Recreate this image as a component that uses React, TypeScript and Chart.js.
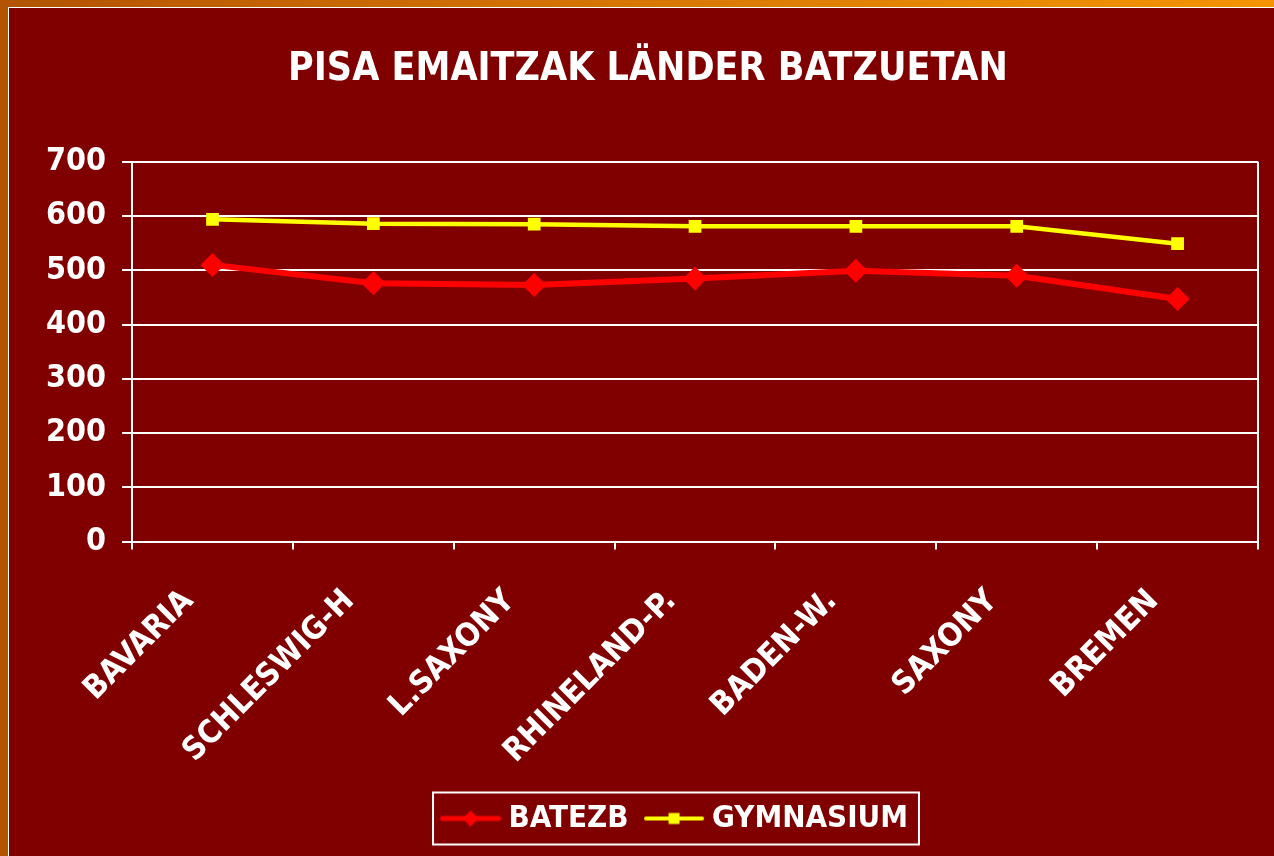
import { useEffect, useRef } from "react";
import { Chart, registerables } from "chart.js";

Chart.register(...registerables);

const titleText = "PISA EMAITZAK LÄNDER BATZUETAN";
const categories = ["BAVARIA", "SCHLESWIG-H", "L.SAXONY", "RHINELAND-P.", "BADEN-W.", "SAXONY", "BREMEN"];
const batezbName = "BATEZB";
const batezbValues = [510, 476, 473, 485, 499, 490, 447];
const gymnasiumName = "GYMNASIUM";
const gymnasiumValues = [594, 586, 585, 581, 581, 581, 549];
const yMin = 0;
const yMax = 700;
const yStep = 100;

const FONT = "'DejaVu Sans Condensed', 'Liberation Sans', 'DejaVu Sans', sans-serif";
const RED = "#FF0000";
const YELLOW = "#FFFF00";
const WHITE = "#FFFFFF";
const BG = "#800000";

function makeLegendMarker(color: string, lineWidth: number, shape: "diamond" | "square") {
  const c = document.createElement("canvas");
  c.width = 64;
  c.height = 24;
  const g = c.getContext("2d")!;
  g.strokeStyle = color;
  g.fillStyle = color;
  g.lineWidth = lineWidth;
  g.lineCap = "round";
  g.beginPath();
  g.moveTo(4, 12);
  g.lineTo(60, 12);
  g.stroke();
  g.beginPath();
  if (shape === "diamond") {
    g.moveTo(32 - 8, 12);
    g.lineTo(32, 12 - 8);
    g.lineTo(32 + 8, 12);
    g.lineTo(32, 12 + 8);
    g.closePath();
  } else {
    g.rect(32 - 5.5, 12 - 5.5, 11, 11);
  }
  g.fill();
  return c;
}

const boxShift = {
  id: "boxShift",
  afterLayout(chart: any) {
    const lg = chart.legend;
    if (lg) {
      lg.left += 34;
      lg.right += 34;
    }
    const tt = chart.titleBlock;
    if (tt) {
      tt.left += 4;
      tt.right += 4;
    }
  },
};

const legendFrame = {
  id: "legendFrame",
  afterDraw(chart: any) {
    const boxes = chart.legend?.legendHitBoxes;
    if (!boxes || !boxes.length) return;
    const left = Math.min(...boxes.map((b: any) => b.left)) - 15;
    const right = Math.max(...boxes.map((b: any) => b.left + b.width)) + 11;
    const cy = boxes[0].top + boxes[0].height / 2;
    const ctx = chart.ctx;
    ctx.save();
    ctx.strokeStyle = WHITE;
    ctx.lineWidth = 2;
    ctx.strokeRect(left, cy - 26, right - left, 52);
    ctx.restore();
  },
};

export default function App() {
  const ref = useRef<HTMLCanvasElement | null>(null);

  useEffect(() => {
    if (!ref.current) return;
    const redMarker = makeLegendMarker(RED, 5, "diamond");
    const yellowMarker = makeLegendMarker(YELLOW, 4, "square");
    const chart = new Chart(ref.current, {
      type: "line",
      data: {
        labels: categories,
        datasets: [
          {
            label: batezbName,
            data: batezbValues,
            borderColor: RED,
            backgroundColor: RED,
            borderWidth: 6,
            pointStyle: "rectRot",
            pointRadius: 12,
            pointBorderWidth: 0,
            pointBackgroundColor: RED,
            tension: 0,
          },
          {
            label: gymnasiumName,
            data: gymnasiumValues,
            borderColor: YELLOW,
            backgroundColor: YELLOW,
            borderWidth: 4.5,
            pointStyle: "rect",
            pointRadius: 9,
            pointBorderWidth: 0,
            pointBackgroundColor: YELLOW,
            tension: 0,
          },
        ],
      },
      options: {
        responsive: false,
        animation: false,
        layout: { padding: { left: 30, right: 16, top: 0, bottom: 12 } },
        plugins: {
          title: {
            display: true,
            text: titleText,
            color: WHITE,
            font: { family: FONT, size: 39, weight: "bold" },
            padding: { top: 46, bottom: 69 },
          },
          legend: {
            position: "bottom",
            labels: {
              color: WHITE,
              font: { family: FONT, size: 31, weight: "bold" },
              usePointStyle: true,
              pointStyleWidth: 45,
              padding: 23,
              generateLabels: () => [
                { text: batezbName, pointStyle: redMarker, fillStyle: RED, strokeStyle: RED, lineWidth: 0, fontColor: WHITE, datasetIndex: 0, hidden: false },
                { text: gymnasiumName, pointStyle: yellowMarker, fillStyle: YELLOW, strokeStyle: YELLOW, lineWidth: 0, fontColor: WHITE, datasetIndex: 1, hidden: false },
              ] as any,
            },
          },
          tooltip: { enabled: false },
        },
        scales: {
          x: {
            offset: true,
            afterFit: (s: any) => {
              s.height = s.height - 24;
            },
            grid: {
              offset: true,
              drawOnChartArea: true,
              color: (c: any) => (c.type === "scale" ? WHITE : "rgba(0,0,0,0)"),
              tickColor: WHITE,
              tickLength: 8,
              lineWidth: 2,
            },
            border: { color: WHITE, width: 2 },
            ticks: {
              color: WHITE,
              font: { family: FONT, size: 32, weight: "bold" },
              maxRotation: 45,
              minRotation: 45,
              padding: 33,
              labelOffset: -24,
              autoSkip: false,
            },
          },
          y: {
            min: yMin,
            max: yMax,
            grid: { color: WHITE, lineWidth: 2, tickLength: 10 },
            border: { color: WHITE, width: 2 },
            ticks: {
              stepSize: yStep,
              color: WHITE,
              font: { family: FONT, size: 32, weight: "bold" },
              padding: 16,
            },
          },
        },
      },
      plugins: [boxShift, legendFrame],
    });
    return () => chart.destroy();
  }, []);

  return (
    <div
      style={{
        position: "fixed",
        left: 0,
        top: 0,
        width: 1274,
        height: 856,
        background: "linear-gradient(90deg, #B25300 0%, #C96A00 30%, #E88A00 80%, #F59400 100%)",
        overflow: "hidden",
      }}
    >
      <div
        style={{
          position: "absolute",
          left: 8,
          top: 7,
          right: 0,
          bottom: 0,
          background: BG,
          borderTop: "1.5px solid #FFFFFF",
          borderLeft: "1.5px solid #FFFFFF",
        }}
      />
      <canvas ref={ref} width={1274} height={856} style={{ position: "absolute", left: 0, top: 0 }} />
    </div>
  );
}
